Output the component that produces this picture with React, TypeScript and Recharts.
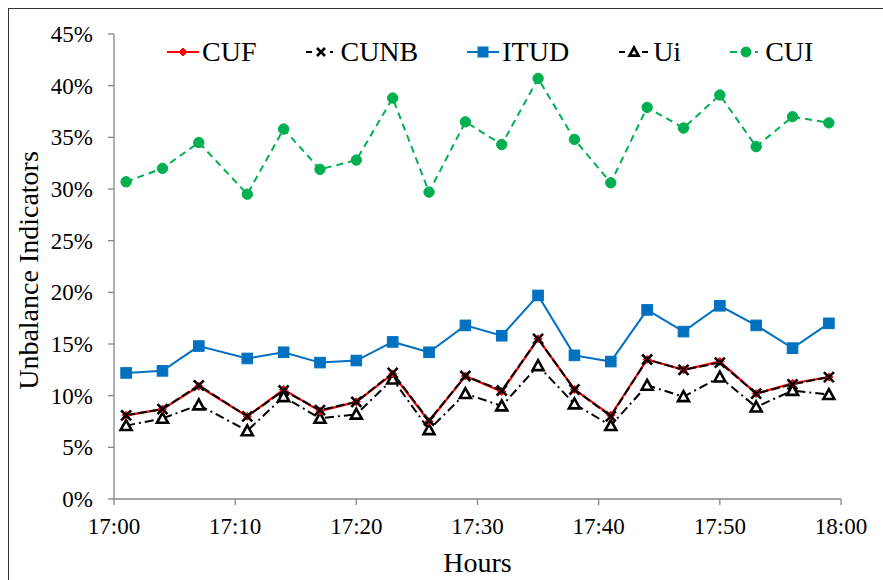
import React from "react";
import { LineChart, Line, XAxis, YAxis } from "recharts";

const minutes = [1, 4, 7, 11, 14, 17, 20, 23, 26, 29, 32, 35, 38, 41, 44, 47, 50, 53, 56, 59];
const cuf = [8.1, 8.7, 10.9, 8.0, 10.6, 8.5, 9.4, 12.1, 7.5, 11.9, 10.4, 15.5, 10.6, 8.1, 13.5, 12.5, 13.3, 10.2, 11.2, 11.8];
const cunb = [8.1, 8.7, 11.0, 8.0, 10.5, 8.6, 9.4, 12.2, 7.6, 11.9, 10.5, 15.5, 10.6, 8.0, 13.5, 12.5, 13.2, 10.2, 11.1, 11.8];
const itud = [12.2, 12.4, 14.8, 13.6, 14.2, 13.2, 13.4, 15.2, 14.2, 16.8, 15.8, 19.7, 13.9, 13.3, 18.3, 16.2, 18.7, 16.8, 14.6, 17.0];
const ui = [7.1, 7.8, 9.1, 6.6, 9.9, 7.8, 8.2, 11.6, 6.7, 10.2, 9.0, 12.9, 9.2, 7.1, 11.0, 9.9, 11.8, 8.9, 10.5, 10.1];
const cui = [30.7, 32.0, 34.5, 29.5, 35.8, 31.9, 32.8, 38.8, 29.7, 36.5, 34.3, 40.7, 34.8, 30.6, 37.9, 35.9, 39.1, 34.1, 37.0, 36.4];

const xTickValues = [0, 10, 20, 30, 40, 50, 60];
const xTickLabels = ["17:00", "17:10", "17:20", "17:30", "17:40", "17:50", "18:00"];
const yTickValues = [0, 5, 10, 15, 20, 25, 30, 35, 40, 45];
const seriesNames = ["CUF", "CUNB", "ITUD", "Ui", "CUI"];

const data = minutes.map((m, i) => ({
  m,
  CUF: cuf[i],
  CUNB: cunb[i],
  ITUD: itud[i],
  Ui: ui[i],
  CUI: cui[i],
}));

const FONT = "'Liberation Serif', 'Times New Roman', serif";
const AXIS = "#868686";
const RED = "#FF0000";
const BLUE = "#0070C0";
const GREEN = "#00B050";

const diamond = (cx: number, cy: number, s: number, key?: any) => (
  <path key={key} d={`M${cx},${cy - s} L${cx + s},${cy} L${cx},${cy + s} L${cx - s},${cy} Z`} fill={RED} stroke={RED} strokeWidth={1} />
);
const cross = (cx: number, cy: number, s: number, key?: any) => (
  <path key={key} d={`M${cx - s},${cy - s} L${cx + s},${cy + s} M${cx + s},${cy - s} L${cx - s},${cy + s}`} stroke="#000" strokeWidth={2.6} fill="none" />
);
const square = (cx: number, cy: number, s: number, key?: any) => (
  <rect key={key} x={cx - s} y={cy - s} width={2 * s} height={2 * s} fill={BLUE} stroke={BLUE} />
);
const triangle = (cx: number, cy: number, s: number, key?: any) => (
  <path key={key} d={`M${cx},${cy - s} L${cx + s},${cy + s * 0.8} L${cx - s},${cy + s * 0.8} Z`} fill="#fff" stroke="#000" strokeWidth={2.6} strokeLinejoin="miter" />
);
const circle = (cx: number, cy: number, r: number, key?: any) => (
  <circle key={key} cx={cx} cy={cy} r={r} fill={GREEN} stroke={GREEN} />
);

const dotFn = (shape: (cx: number, cy: number, s: number, key?: any) => any, s: number) => (props: any) =>
  shape(props.cx, props.cy, s, `d-${props.index}`);

const LegendSymbol = ({ name }: { name: string }) => {
  const w = 32;
  const h = 20;
  const cy = 10;
  const cx = 16;
  let body: any = null;
  if (name === "CUF")
    body = (
      <g>
        <line x1={0} y1={cy} x2={w} y2={cy} stroke={RED} strokeWidth={2} />
        {diamond(cx, cy, 4)}
      </g>
    );
  if (name === "CUNB")
    body = (
      <g>
        <line x1={1} y1={cy} x2={7} y2={cy} stroke="#000" strokeWidth={2} />
        <line x1={25} y1={cy} x2={28} y2={cy} stroke="#000" strokeWidth={2} />
        {cross(cx, cy, 4)}
      </g>
    );
  if (name === "ITUD")
    body = (
      <g>
        <line x1={0} y1={cy} x2={w} y2={cy} stroke={BLUE} strokeWidth={2} />
        {square(cx, cy, 5)}
      </g>
    );
  if (name === "Ui")
    body = (
      <g>
        <line x1={1} y1={cy} x2={7} y2={cy} stroke="#000" strokeWidth={2} />
        <line x1={24} y1={cy} x2={30} y2={cy} stroke="#000" strokeWidth={2} />
        {triangle(cx, cy, 4.5)}
      </g>
    );
  if (name === "CUI")
    body = (
      <g>
        <line x1={0} y1={cy} x2={7} y2={cy} stroke={GREEN} strokeWidth={2} />
        <line x1={25} y1={cy} x2={28} y2={cy} stroke={GREEN} strokeWidth={2} />
        {circle(cx, cy, 5)}
      </g>
    );
  return (
    <svg width={w} height={h} style={{ display: "block" }}>
      {body}
    </svg>
  );
};

const YLabel = (props: any) => {
  const vb = props.viewBox || { x: 0, y: 0, width: 0, height: 0 };
  const x = vb.x + 38;
  const y = vb.y + vb.height / 2 + 4;
  return (
    <text x={x} y={y} transform={`rotate(-90, ${x}, ${y})`} textAnchor="middle" fontFamily={FONT} fontSize={28} fill="#000">
      Unbalance Indicators
    </text>
  );
};

export default function App() {
  return (
    <div style={{ position: "absolute", left: 0, top: 0, width: 883, height: 580, background: "#fff", overflow: "hidden" }}>
      <div
        style={{
          position: "absolute",
          left: 8,
          top: 8,
          width: 900,
          height: 600,
          borderLeft: "1.5px solid #333",
          borderTop: "1.5px solid #333",
          boxSizing: "border-box",
        }}
      />
      <div style={{ position: "absolute", left: 0, top: 0 }}>
        <LineChart width={883} height={580} data={data} margin={{ top: 34, right: 42, bottom: 0, left: 0 }}>
          <XAxis
            dataKey="m"
            type="number"
            domain={[0, 60]}
            ticks={xTickValues}
            tickFormatter={(v: number) => xTickLabels[xTickValues.indexOf(v)]}
            height={81}
            axisLine={{ stroke: AXIS, strokeWidth: 1.3 }}
            tickLine={{ stroke: AXIS, strokeWidth: 1.3 }}
            tickSize={6}
            tickMargin={13}
            tick={{ fill: "#000", fontFamily: FONT, fontSize: 23 }}
            label={{ value: "Hours", position: "insideBottom", offset: 8, fill: "#000", fontFamily: FONT, fontSize: 28 }}
          />
          <YAxis
            type="number"
            domain={[0, 45]}
            ticks={yTickValues}
            tickFormatter={(v: number) => `${v}%`}
            width={114}
            axisLine={{ stroke: AXIS, strokeWidth: 1.3 }}
            tickLine={{ stroke: AXIS, strokeWidth: 1.3 }}
            tickSize={6}
            tickMargin={15}
            tick={{ fill: "#000", fontFamily: FONT, fontSize: 23 }}
            label={<YLabel />}
          />
          <Line dataKey="CUI" stroke={GREEN} strokeWidth={2} strokeDasharray="7 5" dot={dotFn(circle, 5.2)} isAnimationActive={false} />
          <Line dataKey="ITUD" stroke={BLUE} strokeWidth={2} dot={dotFn(square, 5.3)} isAnimationActive={false} />
          <Line dataKey="Ui" stroke="#000" strokeWidth={2} strokeDasharray="9 4 2 4" dot={dotFn(triangle, 5.5)} isAnimationActive={false} />
          <Line dataKey="CUF" stroke={RED} strokeWidth={2.2} dot={dotFn(diamond, 4)} isAnimationActive={false} />
          <Line dataKey="CUNB" stroke="#000" strokeWidth={2} strokeDasharray="9 3" dot={dotFn(cross, 5)} isAnimationActive={false} />
        </LineChart>
      </div>
      <div
        style={{
          position: "absolute",
          left: 167,
          top: 38,
          display: "flex",
          alignItems: "center",
          gap: 49,
          fontFamily: FONT,
          fontSize: 28,
          lineHeight: "28px",
          color: "#000",
        }}
      >
        {seriesNames.map((n) => (
          <div key={n} style={{ display: "flex", alignItems: "center", gap: 3 }}>
            <LegendSymbol name={n} />
            <span>{n}</span>
          </div>
        ))}
      </div>
    </div>
  );
}
